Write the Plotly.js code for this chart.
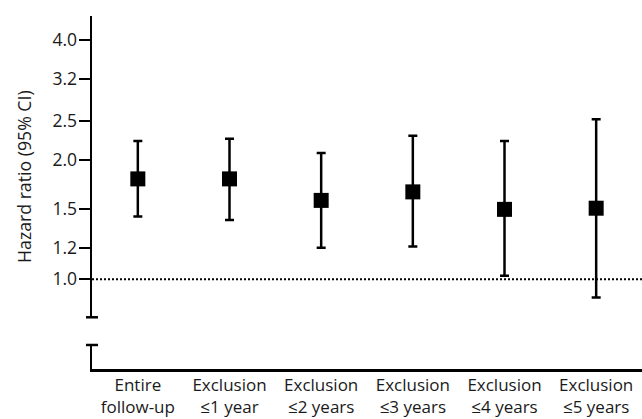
<!DOCTYPE html>
<html><head><meta charset="utf-8">
<script src="https://cdn.plot.ly/plotly-3.0.1.min.js"></script>
<style>html,body{margin:0;padding:0;background:#fff}#chart{width:642px;height:419px}</style>
</head><body><div id="chart"></div>
<script>
const tickLabels = ["Entire<br>follow-up", "Exclusion<br>≤1 year", "Exclusion<br>≤2 years", "Exclusion<br>≤3 years", "Exclusion<br>≤4 years", "Exclusion<br>≤5 years"];
const hazardRatio = [1.79, 1.79, 1.58, 1.66, 1.50, 1.51];
const ciLower = [1.44, 1.41, 1.20, 1.21, 1.02, 0.90];
const ciUpper = [2.23, 2.26, 2.08, 2.30, 2.23, 2.53];
const yTickValues = [1.0, 1.2, 1.5, 2.0, 2.5, 3.2, 4.0];
const yTickLabels = ["1.0", "1.2", "1.5", "2.0", "2.5", "3.2", "4.0"];
const yTitle = 'Hazard ratio (95% CI)';
const referenceHR = 1.0;
const yRangeValues = [0.802, 4.605];

const errPlus = ciUpper.map((u, i) => u - hazardRatio[i]);
const errMinus = ciLower.map((l, i) => hazardRatio[i] - l);

const textColor = '#1a1a1a';

const traces = [
  {
    type: 'scatter', mode: 'markers', x: tickLabels, y: hazardRatio,
    xaxis: 'x', yaxis: 'y',
    marker: {symbol: 'square', size: 15, color: '#000'},
    error_y: {type: 'data', symmetric: false, array: errPlus, arrayminus: errMinus,
              color: '#000', thickness: 2.5, width: 4.5},
    hoverinfo: 'skip', showlegend: false, cliponaxis: false
  },
  {
    type: 'scatter', mode: 'none', x: [tickLabels[0]], y: [0.5],
    xaxis: 'x', yaxis: 'y2', hoverinfo: 'skip', showlegend: false
  }
];

const axisCommon = {showgrid: false, zeroline: false, linecolor: '#000', linewidth: 2.5};

const layout = {
  width: 642, height: 419,
  margin: {l: 92, r: 0, t: 16, b: 50},
  paper_bgcolor: '#fff', plot_bgcolor: '#fff',
  font: {family: '"Open Sans", sans-serif', color: textColor, size: 17},
  showlegend: false,
  xaxis: Object.assign({}, axisCommon, {
    type: 'category', range: [-0.5, 5.5], anchor: 'y2', showline: true,
    ticks: '', tickfont: {size: 17, color: textColor}, fixedrange: true,
    ticklabelstandoff: -1
  }),
  yaxis: Object.assign({}, axisCommon, {
    type: 'log', domain: [0.1465, 1],
    range: yRangeValues.map(v => Math.log10(v)),
    anchor: 'x', showline: true,
    tickvals: yTickValues, ticktext: yTickLabels,
    ticks: 'outside', ticklen: 11, tickwidth: 2, tickcolor: '#000',
    tickfont: {size: 17.5, color: textColor},
    ticklabelstandoff: -2,
    automargin: false, fixedrange: true
  }),
  yaxis2: Object.assign({}, axisCommon, {
    domain: [0, 0.068], range: [0, 1], anchor: 'x', showline: true,
    showticklabels: false, ticks: '', fixedrange: true
  }),
  annotations: [
    {text: yTitle, xref: 'paper', yref: 'paper', x: -0.1236, y: 0.544,
     xanchor: 'center', yanchor: 'middle', textangle: -90, showarrow: false,
     font: {size: 17.7, color: textColor}}
  ],
  shapes: [
    {type: 'line', xref: 'paper', x0: 0, x1: 1, yref: 'y', y0: referenceHR, y1: referenceHR,
     line: {color: '#000', width: 2, dash: '2px,2px'}, layer: 'below'},
    {type: 'line', xref: 'paper', xsizemode: 'pixel', xanchor: 0, x0: -6, x1: 6,
     yref: 'y domain', y0: 0, y1: 0, line: {color: '#000', width: 2.5}},
    {type: 'line', xref: 'paper', xsizemode: 'pixel', xanchor: 0, x0: -6, x1: 6,
     yref: 'y2 domain', y0: 1, y1: 1, line: {color: '#000', width: 2.5}}
  ]
};

Plotly.newPlot('chart', traces, layout, {displayModeBar: false, staticPlot: true});
</script>
</body></html>
